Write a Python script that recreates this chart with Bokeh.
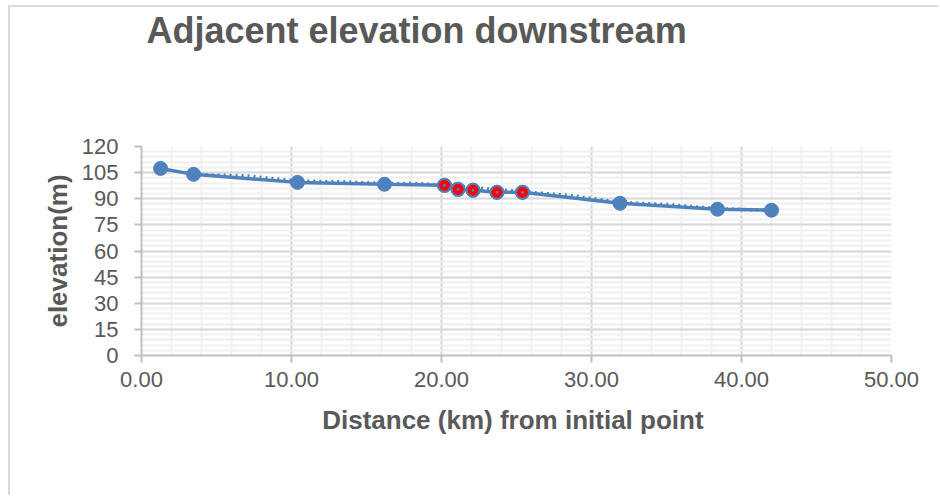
from bokeh.plotting import figure
from bokeh.models import Range1d, SingleIntervalTicker, Title, NumeralTickFormatter
from bokeh.embed import file_html
from bokeh.resources import INLINE

# Measured profile: distance from initial point (km) and elevation (m)
distance_km = [1.27, 3.47, 10.40, 16.20, 20.20, 21.10, 22.10, 23.70, 25.40, 31.90, 38.40, 42.00]
elevation_m = [107.4, 104.0, 99.4, 98.3, 97.7, 95.4, 94.9, 93.7, 93.7, 87.4, 84.0, 83.4]

# Reach highlighted in red (the adjacent downstream stations)
adjacent_km = [20.20, 21.10, 22.10, 23.70, 25.40]
adjacent_m = [97.7, 95.4, 94.9, 93.7, 93.7]

# Dotted companion profile
dotted_km = [3.47, 7.00, 10.40, 13.30, 16.20, 18.20, 20.20, 25.40, 28.60, 31.90, 35.20, 38.40, 42.00]
dotted_m = [104.0, 103.1, 100.1, 99.8, 98.7, 98.9, 97.7, 94.0, 91.9, 87.9, 86.6, 84.3, 83.4]

BLUE = "#4F81BD"
TEXT = "#595959"
FONT = "Liberation Sans"

p = figure(width=930, height=490, output_backend="svg", toolbar_location=None,
           x_range=Range1d(0, 50), y_range=Range1d(0, 120), title=None,
           min_border_left=131, min_border_right=49, min_border_top=10, min_border_bottom=142)
p.outline_line_color = None
p.background_fill_color = "white"
p.border_fill_color = "white"
# chart area border on the left and top edges
p.styles = {"margin-left": "8px", "margin-top": "5px",
            "border-left": "2px solid #d9d9d9", "border-top": "2px solid #d9d9d9"}

# axes and ticks
p.xaxis.ticker = SingleIntervalTicker(interval=10, num_minor_ticks=5)
p.yaxis.ticker = SingleIntervalTicker(interval=15, num_minor_ticks=5)
p.xaxis.formatter = NumeralTickFormatter(format="0.00")
for ax in (p.xaxis, p.yaxis):
    ax.axis_line_color = "#bfbfbf"
    ax.axis_line_width = 2
    ax.major_tick_line_color = "#bfbfbf"
    ax.major_tick_line_width = 2
    ax.major_tick_out = 7
    ax.major_tick_in = 0
    ax.minor_tick_out = 0
    ax.minor_tick_in = 0
    ax.major_label_text_font = FONT
    ax.major_label_text_font_size = "22px"
    ax.major_label_text_color = TEXT
    ax.axis_label_text_font = FONT
    ax.axis_label_text_font_style = "bold"
    ax.axis_label_text_font_size = "26px"
    ax.axis_label_text_color = TEXT

p.xaxis.axis_label = "Distance (km)  from initial point"
p.yaxis.axis_label = "elevation(m)"
p.xaxis.major_label_standoff = 9
p.yaxis.major_label_standoff = 16
p.xaxis.axis_label_standoff = 15
p.yaxis.axis_label_standoff = 6

# grid
p.xgrid.grid_line_color = "#d9d9d9"
p.xgrid.grid_line_width = 2
p.xgrid.minor_grid_line_color = "#f0f0f0"
p.xgrid.minor_grid_line_width = 2
p.ygrid.grid_line_color = "#d9d9d9"
p.ygrid.grid_line_width = 2
p.ygrid.minor_grid_line_color = "#f0f0f0"
p.ygrid.minor_grid_line_width = 2

# profile lines
p.line(dotted_km, dotted_m, line_color=BLUE, line_width=3.5, line_dash="2 4")
p.line(distance_km, elevation_m, line_color=BLUE, line_width=3.5)
p.scatter(distance_km, elevation_m, size=14, fill_color=BLUE, line_color=BLUE)
p.scatter(adjacent_km, adjacent_m, size=13, fill_color="red", line_color=BLUE, line_width=2)
p.scatter(adjacent_km, adjacent_m, size=3, fill_color=BLUE, line_color=None)

# spacer between the chart title and the plot area, then the title itself
p.add_layout(Title(text=" ", text_font_size="84px", standoff=0), "above")
p.add_layout(Title(text="Adjacent elevation downstream", text_font=FONT,
                   text_font_size="36px", text_font_style="bold", text_color=TEXT,
                   align="left", offset=5, standoff=0), "above")

open("out.html", "w").write(file_html(p, INLINE))
